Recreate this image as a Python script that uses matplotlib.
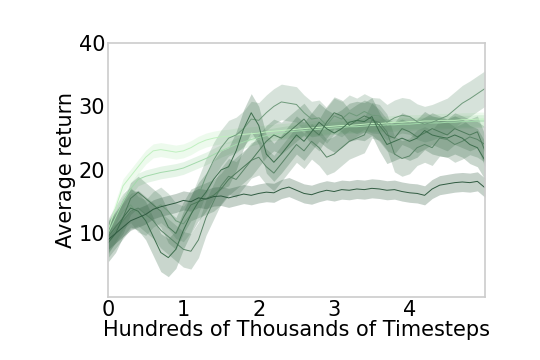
import numpy as np
import matplotlib
matplotlib.use("Agg")
import matplotlib.pyplot as plt

steps = [round(0.1 * i, 1) for i in range(51)]

dark_flat = [9.0, 10.0, 11.0, 12.0, 12.5, 13.0, 13.8, 14.2, 14.5, 14.8, 15.2, 15.0, 15.6, 15.4, 15.8,
             15.9, 15.6, 15.9, 16.2, 16.0, 16.3, 16.5, 16.4, 17.0, 17.3, 16.8, 16.3, 16.1, 16.5, 16.8,
             16.6, 16.9, 16.8, 17.0, 16.9, 17.1, 17.0, 16.8, 16.9, 16.6, 16.4, 16.3, 16.0, 17.0, 17.6,
             17.8, 18.0, 18.1, 18.0, 18.2, 17.2]
light_upper = [10.5, 14, 17.5, 19, 20.5, 22, 23, 23.2, 23, 22.8, 23, 23.5, 24.2, 24.7, 25, 25.2, 25.3,
               25.5, 25.6, 25.7, 25.8, 26, 26.1, 26.2, 26.3, 26.4, 26.5, 26.6, 26.7, 26.8, 26.9, 27, 27,
               27.1, 27.2, 27.3, 27.3, 27.4, 27.5, 27.5, 27.6, 27.6, 27.7, 27.7, 27.8, 27.8, 27.8, 27.9,
               27.9, 28, 28]
light_lower = [10, 12.5, 15, 17, 18.5, 19, 19.3, 19.6, 19.8, 20.0, 20.3, 20.8, 21.3, 21.8, 22.4, 23, 23.5,
               24, 24.4, 24.8, 25.1, 25.4, 25.6, 25.8, 26, 26.1, 26.2, 26.3, 26.4, 26.5, 26.6, 26.7, 26.8,
               26.8, 26.9, 27, 27, 27.1, 27.1, 27.2, 27.2, 27.3, 27.3, 27.4, 27.4, 27.5, 27.5, 27.6, 27.6,
               27.7, 27.7]
dip_early = [8.5, 10, 12.5, 14, 13.5, 12, 9.5, 7, 6.2, 7.5, 10.5, 13, 15, 16.5, 18.5, 20, 20.5, 23, 26.5,
             29.0, 27, 22.5, 21.2, 22.5, 24, 25.5, 24.5, 26, 27.5, 26.5, 25.8, 26.5, 27.5, 27.8, 27.6, 28.4,
             26, 24, 24.5, 25, 24.5, 25, 26.2, 25.5, 25.2, 25, 25.5, 25, 24, 23.5, 21.5]
dip_late = [9, 10.5, 12, 13.5, 14, 13, 12, 10.5, 9.5, 8.5, 7.5, 7.2, 9, 12.5, 15, 17.5, 19, 18.5, 20, 21.5,
            22, 20.5, 19.5, 21, 22.5, 24, 23, 24.5, 23.5, 22, 22.5, 23.5, 24.5, 25, 25.5, 27.8, 27.5, 26,
            22.5, 21.8, 22.2, 23.5, 24, 23.5, 25, 24.8, 24, 24.5, 25.2, 24.8, 24]
rising_end = [9.5, 11.5, 13.5, 14.5, 13, 12.5, 13.8, 14.5, 13.5, 12, 11.5, 13, 16, 19, 21.5, 23.5, 25, 25.5,
              26.5, 28, 27.8, 29, 30, 30.7, 30.5, 30.3, 29, 28, 28.2, 27, 28.5, 28, 29, 28.5, 29.2, 28.6,
              28.5, 27.5, 28.2, 28.6, 28.4, 27.6, 27.2, 27.5, 28, 28.5, 29.5, 30.5, 31.2, 32, 32.8]
middle = [9.5, 11, 12.5, 15.5, 16.5, 15.5, 14.5, 13.5, 11, 10, 12.5, 14.5, 15, 15.5, 16, 17, 18.5, 19.5,
          20.5, 21.5, 23, 24.5, 25.5, 25, 26, 27, 28, 26.5, 25.5, 27.5, 29, 28.5, 27, 27.8, 28.5, 28, 27,
          25.5, 25, 26.5, 26, 25.2, 25.8, 26.5, 26, 25.5, 26.5, 26, 25.5, 26, 23]

series = [light_upper, light_lower, rising_end, dip_late, middle, dip_early, dark_flat]
spreads = [1.1, 1.0, 2.8, 2.8, 2.5, 3.0, 1.5]
colors = ['#bff0bf', '#a3d9ab', '#6f9a7b', '#5a8467', '#4d7a5a', '#3d6e4d', '#2f5a40']

fig = plt.figure(figsize=(5.4, 3.6), dpi=100)
ax = fig.add_axes([0.2, 0.175, 0.698, 0.706])
x = np.array(steps)
for vals, sd, c in zip(series, spreads, colors):
    y = np.array(vals)
    ax.fill_between(x, y - sd, y + sd, color=c, alpha=0.28, linewidth=0)
    ax.plot(x, y, color=c, linewidth=0.7)

ax.set_xlim(0, 5)
ax.set_ylim(0, 40)
ax.set_xticks([0, 1, 2, 3, 4])
ax.set_yticks([10, 20, 30, 40])
ax.tick_params(length=0, labelsize=15, pad=2)
for s in ax.spines.values():
    s.set_color('#cccccc')
    s.set_linewidth(1.2)
ax.set_xlabel('Hundreds of Thousands of Timesteps', fontsize=15, labelpad=0)
ax.set_ylabel('Average return', fontsize=15, labelpad=2)
fig.savefig('out.png', dpi=100)
